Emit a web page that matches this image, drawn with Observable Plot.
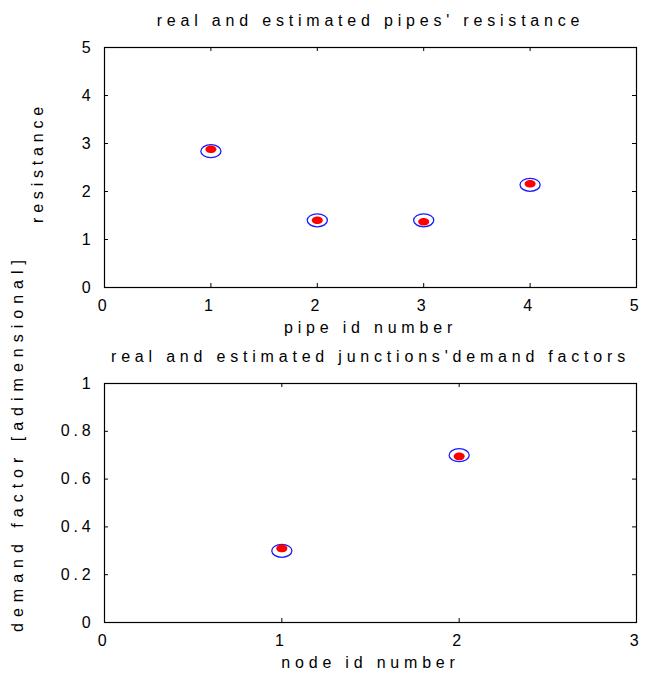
<!DOCTYPE html>
<html>
<head>
<meta charset="utf-8">
<script src="https://cdn.jsdelivr.net/npm/d3@7"></script>
<script src="https://cdn.jsdelivr.net/npm/@observablehq/plot@0.6"></script>
<style>
  html, body { margin: 0; padding: 0; background: white; }
  #chart svg { display: block; }
  #chart g[aria-label="y-axis tick label"] text { letter-spacing: 3.8px; }
</style>
</head>
<body>
<div id="chart"></div>
<script>
// ---- data ----
const pipeIds = [1, 2, 3, 4];
const pipeReal = [2.88, 1.40, 1.37, 2.16];
const pipeEstimated = [2.84, 1.40, 1.40, 2.14];
const nodeIds = [1, 2];
const nodeReal = [0.31, 0.695];
const nodeEstimated = [0.30, 0.70];
const pipeXTicks = [0, 1, 2, 3, 4, 5];
const pipeYTicks = [0, 1, 2, 3, 4, 5];
const nodeXTicks = [0, 1, 2, 3];
const nodeYTicks = [0, 0.2, 0.4, 0.6, 0.8, 1];
const title1 = "real and estimated pipes' resistance";
const xLabel1 = "pipe id number";
const yLabel1 = "resistance";
const title2 = "real and estimated junctions'demand factors";
const xLabel2 = "node id number";
const yLabel2 = "demand factor [adimensional]";

// ellipse symbol (wider than tall)
function ellipseSymbol(aspect) {
  return {
    draw(context, size) {
      const ry = Math.sqrt(size / Math.PI), rx = ry * aspect, k = 0.5523;
      context.moveTo(rx, 0);
      context.bezierCurveTo(rx, k * ry, k * rx, ry, 0, ry);
      context.bezierCurveTo(-k * rx, ry, -rx, k * ry, -rx, 0);
      context.bezierCurveTo(-rx, -k * ry, -k * rx, -ry, 0, -ry);
      context.bezierCurveTo(k * rx, -ry, rx, -k * ry, rx, 0);
      context.closePath();
    }
  };
}
const outerSym = ellipseSymbol(1.55);
const innerSym = ellipseSymbol(1.45);

const W = 645;
const style = {
  fontFamily: "'Liberation Sans', Arial, sans-serif",
  fontSize: "16px",
  letterSpacing: "4.8px",
  overflow: "visible",
  background: "transparent"
};

function panel({ids, real, est, xTicks, yTicks, xDomain, yDomain, height, mt, mb, ml, mr,
                title, titleDy, xLabel, xLabelDy, yLabel, yLabelDx, yLabelDy, yLabelSpacing}) {
  const fw = W - ml - mr, fh = height - mt - mb;
  const estData = ids.map((id, i) => ({id, v: est[i]}));
  const realData = ids.map((id, i) => ({id, v: real[i]}));
  const svg = Plot.plot({
    width: W, height,
    marginTop: mt, marginBottom: mb, marginLeft: ml, marginRight: mr,
    style,
    x: {domain: xDomain, axis: null},
    y: {domain: yDomain, axis: null},
    marks: [
      Plot.frame({stroke: "black", strokeWidth: 1.2}),
      Plot.tickX(xTicks, {x: d => d, insetTop: fh - 4, stroke: "black"}),
      Plot.tickX(xTicks, {x: d => d, insetBottom: fh - 4, stroke: "black"}),
      Plot.tickY(yTicks, {y: d => d, insetRight: fw - 4, stroke: "black"}),
      Plot.tickY(yTicks, {y: d => d, insetLeft: fw - 4, stroke: "black"}),
      Plot.axisX({ticks: xTicks, tickSize: 0, tickPadding: 12, tickFormat: d => String(d), label: null}),
      Plot.axisY({ticks: yTicks, tickSize: 0, tickPadding: 10, tickFormat: d => String(d), label: null}),
      Plot.dot(estData, {x: "id", y: "v", symbol: outerSym, r: 6.5, stroke: "#1a1aff", strokeWidth: 1.3, fill: "none"}),
      Plot.dot(realData, {x: "id", y: "v", symbol: innerSym, r: 3.8, fill: "#ff0000", stroke: "none"}),
      Plot.text([title], {frameAnchor: "top", dy: titleDy, lineAnchor: "bottom", textAnchor: "middle", fill: "black"}),
      Plot.text([xLabel], {frameAnchor: "bottom", dy: xLabelDy, lineAnchor: "bottom", textAnchor: "middle", fill: "black"}),
      Plot.text([yLabel], {frameAnchor: "left", rotate: -90, dx: yLabelDx, dy: yLabelDy, lineAnchor: "bottom", textAnchor: "middle", fill: "black"})
    ]
  });
  if (yLabelSpacing) {
    d3.select(svg).selectAll("text")
      .filter(function () { return this.textContent === yLabel; })
      .style("letter-spacing", yLabelSpacing);
  }
  return svg;
}

const chart = document.getElementById("chart");
chart.appendChild(panel({
  ids: pipeIds, real: pipeReal, est: pipeEstimated,
  xTicks: pipeXTicks, yTicks: pipeYTicks, xDomain: [0, 5], yDomain: [0, 5],
  height: 345, mt: 47, mb: 58, ml: 104, mr: 9,
  title: title1, titleDy: -22,
  xLabel: xLabel1, xLabelDy: 45,
  yLabel: yLabel1, yLabelDx: -62, yLabelDy: -5, yLabelSpacing: null
}));
chart.appendChild(panel({
  ids: nodeIds, real: nodeReal, est: nodeEstimated,
  xTicks: nodeXTicks, yTicks: nodeYTicks, xDomain: [0, 3], yDomain: [0, 1],
  height: 333, mt: 38, mb: 56, ml: 104, mr: 9,
  title: title2, titleDy: -22,
  xLabel: xLabel2, xLabelDy: 45,
  yLabel: yLabel2, yLabelDx: -82, yLabelDy: -60, yLabelSpacing: "6px"
}));
</script>
</body>
</html>
